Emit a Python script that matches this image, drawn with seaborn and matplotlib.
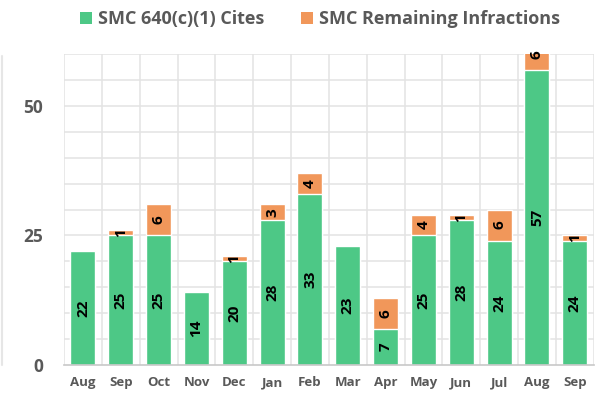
import matplotlib
matplotlib.use("Agg")
import matplotlib.pyplot as plt
import seaborn as sns
import numpy as np
import pandas as pd
from matplotlib.lines import Line2D
from matplotlib.patches import Patch

months = ["Aug", "Sep", "Oct", "Nov", "Dec", "Jan", "Feb", "Mar", "Apr", "May", "Jun", "Jul", "Aug", "Sep"]
cites = [22, 25, 25, 14, 20, 28, 33, 23, 7, 25, 28, 24, 57, 24]
remaining = [0, 1, 6, 0, 1, 3, 4, 0, 6, 4, 1, 6, 6, 1]

GREEN = "#4DC886"
ORANGE = "#F1975A"
TEXT = "#595959"

sns.set_theme(style="white")
plt.rcParams["font.family"] = ["Open Sans", "DejaVu Sans"]

df = pd.DataFrame({
    "pos": np.arange(len(months)),
    "cites": cites,
    "total": np.array(cites) + np.array(remaining),
})

fig = plt.figure(figsize=(6.04, 3.97), dpi=100)
ax = fig.add_axes([0.106, 0.0806, 0.877, 0.783])

# stacked bars: full total in orange, cites drawn over it in green
sns.barplot(data=df, x="pos", y="total", color=ORANGE, saturation=1, width=0.66, ax=ax, zorder=3)
sns.barplot(data=df, x="pos", y="cites", color=GREEN, saturation=1, width=0.66, ax=ax, zorder=4)

ax.set_ylim(0, 60)
ax.set_xlim(-0.5, len(months) - 0.5)

# grid: horizontal every 5, vertical at category boundaries
for yv in np.arange(5, 61, 5):
    ax.axhline(yv, color="#e3e3e3", lw=1.1, zorder=1)
for xv in np.arange(-0.5, len(months), 1.0):
    ax.axvline(xv, color="#e3e3e3", lw=1.1, zorder=1)

ax.set_yticks([0, 25, 50])
ax.set_yticklabels(["0", "25", "50"], fontsize=12.5, fontweight="bold", color=TEXT)
ax.set_xticks(np.arange(len(months)))
ax.set_xticklabels(months, fontsize=9.5, fontweight="bold", color=TEXT)
ax.tick_params(axis="y", length=0, pad=15)
ax.tick_params(axis="x", length=0, pad=8)
ax.set_xlabel("")
ax.set_ylabel("")
for s in ["top", "right", "left"]:
    ax.spines[s].set_visible(False)
ax.spines["bottom"].set_color("#c8c8c8")
ax.spines["bottom"].set_linewidth(1.2)
ax.spines["bottom"].set_zorder(5)

# value labels
for i, (c, r) in enumerate(zip(cites, remaining)):
    ax.text(i, c / 2, str(c), rotation=90, ha="center", va="center",
            fontsize=11, fontweight="bold", color="black", zorder=6)
    if r > 0:
        yc = min(c + r / 2, 60)
        ax.text(i, yc, str(r), rotation=90, ha="center", va="center",
                fontsize=11, fontweight="bold", color="black", zorder=6,
                clip_on=False)

handles = [Patch(facecolor=GREEN, edgecolor="none"), Patch(facecolor=ORANGE, edgecolor="none")]
fig.legend(handles, ["SMC 640(c)(1) Cites", "SMC Remaining Infractions"],
           loc="center", bbox_to_anchor=(0.53, 0.952), ncol=2, frameon=False,
           prop={"weight": "bold", "size": 13}, labelcolor=TEXT,
           handlelength=0.65, handleheight=0.65, handletextpad=0.35, columnspacing=2.0)

fig.add_artist(Line2D([0.003, 0.003], [0.08, 0.86], color="#e6e6e6", lw=1.5))

fig.savefig("out.png", dpi=100)
